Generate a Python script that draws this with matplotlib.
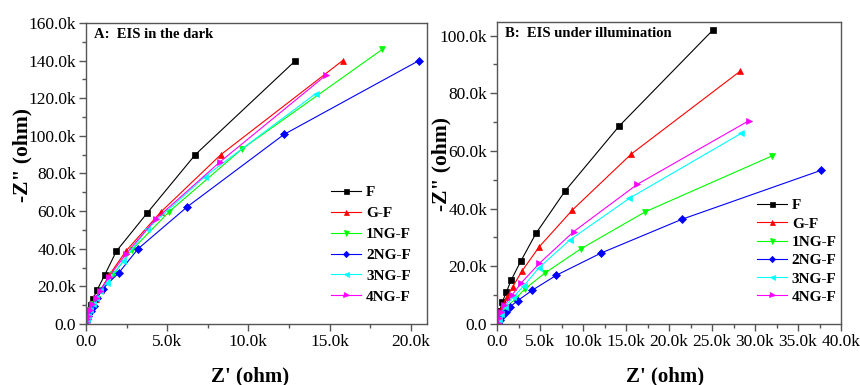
import matplotlib.pyplot as plt
import matplotlib.ticker as mticker
import numpy as np

plt.rcParams['font.family'] = ['Liberation Serif', 'DejaVu Serif']

labels = ['F', 'G-F', '1NG-F', '2NG-F', '3NG-F', '4NG-F']
colors = ['#000000', '#ff0000', '#00ff00', '#0000ff', '#00ffff', '#ff00ff']
markers = ['s', '^', 'v', 'D', '<', '>']

# EIS in the dark: Z' (ohm), -Z'' (ohm)
dark_x = [
    [0, 20, 50, 100, 200, 300, 430, 680, 1150, 1870, 3770, 6730, 12900],
    [0, 20, 60, 120, 250, 400, 600, 900, 1440, 2470, 4590, 8300, 15800],
    [0, 20, 60, 130, 270, 430, 650, 1000, 1690, 2820, 5120, 9600, 18250],
    [0, 30, 70, 150, 300, 480, 700, 1030, 2020, 3210, 6250, 12200, 20500],
    [0, 20, 60, 130, 260, 420, 620, 850, 1280, 2300, 3770, 7300, 14150],
    [0, 20, 60, 120, 250, 400, 600, 850, 1420, 2470, 4300, 8230, 14800],
]
dark_y = [
    [0, 1000, 2500, 4500, 7000, 10000, 13200, 18000, 26000, 38700, 59000, 90000, 140000],
    [0, 1000, 2500, 4500, 7500, 10500, 13500, 18000, 26100, 38900, 59400, 90000, 140000],
    [0, 1000, 2500, 4500, 7500, 10500, 13500, 18000, 26500, 39300, 59700, 93000, 146000],
    [0, 1000, 2500, 4500, 7000, 9500, 14000, 18800, 27200, 40000, 62400, 100800, 140000],
    [0, 1000, 2500, 4500, 7500, 10500, 14000, 17500, 22000, 33400, 50500, 78200, 122500],
    [0, 1000, 2500, 4500, 7500, 10500, 14000, 17500, 25200, 37300, 55800, 86000, 132400],
]

# EIS under illumination: Z' (ohm), -Z'' (ohm)
light_x = [
    [0, 50, 150, 300, 600, 1080, 1660, 2750, 4530, 7940, 14200, 25100],
    [0, 60, 180, 380, 700, 1160, 1820, 2940, 4920, 8760, 15600, 28300],
    [0, 80, 250, 550, 1100, 2100, 3260, 5540, 9770, 17240, 32000],
    [0, 100, 300, 600, 1000, 1500, 2400, 4100, 6900, 12100, 21500, 37700],
    [0, 70, 200, 450, 900, 1860, 3100, 4880, 8450, 15400, 28400],
    [0, 60, 200, 420, 850, 1740, 2830, 4920, 8900, 16300, 29300],
]
light_y = [
    [0, 500, 2000, 4500, 7500, 11000, 15300, 21700, 31400, 46200, 68600, 101900],
    [0, 500, 2000, 4000, 6500, 9200, 12900, 18500, 26800, 39500, 58900, 87700],
    [0, 500, 1800, 3500, 5800, 8600, 12200, 17600, 26100, 38900, 58300],
    [0, 500, 1500, 2800, 4200, 5900, 8100, 11700, 16900, 24600, 36300, 53300],
    [0, 500, 1800, 3500, 6000, 9200, 13200, 19500, 29100, 43600, 66100],
    [0, 500, 2000, 4000, 6500, 10000, 14300, 21000, 32000, 48400, 70500],
]


def k_fmt(v, pos):
    if abs(v) < 1e-9:
        return '0.0'
    return '%.1fk' % (v / 1000.0)


def style_axes(ax, xmax, xstep, ymax, ystep, xlab_pos, ylab_pos):
    ax.set_xlim(0, xmax)
    ax.set_ylim(0, ymax)
    ax.xaxis.set_major_locator(mticker.MultipleLocator(xstep))
    ax.xaxis.set_minor_locator(mticker.MultipleLocator(xstep / 2))
    ax.yaxis.set_major_locator(mticker.MultipleLocator(ystep))
    ax.yaxis.set_minor_locator(mticker.MultipleLocator(ystep / 2))
    ax.xaxis.set_major_formatter(mticker.FuncFormatter(k_fmt))
    ax.yaxis.set_major_formatter(mticker.FuncFormatter(k_fmt))
    ax.tick_params(which='major', direction='out', length=5, width=1,
                   color='#555555', labelsize=12.5, pad=2)
    ax.tick_params(which='minor', direction='out', length=3, width=1, color='#555555')
    for s in ax.spines.values():
        s.set_color('#555555')
        s.set_linewidth(1.0)
    ax.set_xlabel("Z' (ohm)", fontsize=15, fontweight='bold')
    ax.set_ylabel('-Z" (ohm)', fontsize=15.5, fontweight='bold')
    ax.xaxis.set_label_coords(*xlab_pos)
    ax.yaxis.set_label_coords(*ylab_pos)


def draw_panel(ax, xs, ys, title):
    for x, y, c, m, lab in zip(xs, ys, colors, markers, labels):
        ms = 4.5 if m != 'D' else 4
        ax.plot(x, y, color=c, marker=m, markersize=ms, linewidth=0.8, label=lab,
                markeredgewidth=0.5)
    ax.text(0.022, 0.985, title, transform=ax.transAxes, fontsize=10.5,
            fontweight='bold', va='top', ha='left')


fig = plt.figure(figsize=(8.6, 3.85), dpi=100)
ax1 = fig.add_axes([86 / 860, 1 - 324 / 385, (427 - 86) / 860, (324 - 23) / 385])
ax2 = fig.add_axes([497 / 860, 1 - 324 / 385, (841 - 497) / 860, (324 - 22) / 385])

draw_panel(ax1, dark_x, dark_y, 'A:  EIS in the dark')
style_axes(ax1, 21000, 5000, 160000, 20000, (0.48, -0.14), (-0.158, 0.56))
ax1.legend(loc='upper left', bbox_to_anchor=(0.70, 0.48), frameon=False,
           handlelength=2.0, handletextpad=0.3, labelspacing=0.47, markerscale=0.8,
           prop={'weight': 'bold', 'size': 11}, borderaxespad=0)

draw_panel(ax2, light_x, light_y, 'B:  EIS under illumination')
style_axes(ax2, 40000, 5000, 104700, 20000, (0.49, -0.14), (-0.131, 0.53))
ax2.legend(loc='upper left', bbox_to_anchor=(0.737, 0.435), frameon=False,
           handlelength=2.0, handletextpad=0.3, labelspacing=0.3, markerscale=0.8,
           prop={'weight': 'bold', 'size': 11}, borderaxespad=0)

fig.savefig('out.png', dpi=100)
